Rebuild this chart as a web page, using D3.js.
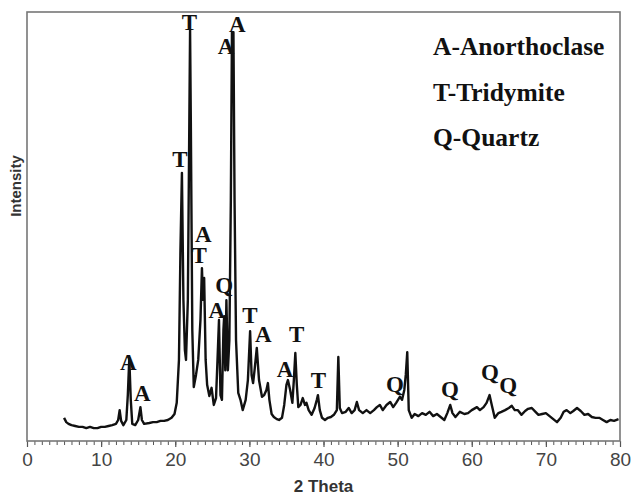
<!DOCTYPE html>
<html><head><meta charset="utf-8">
<script src="https://cdn.jsdelivr.net/npm/d3@7"></script>
<style>html,body{margin:0;padding:0;background:#fff;}svg{display:block;}</style>
</head><body>
<script>
const theta = [5.0,5.3,5.6,6.0,6.5,7.0,7.5,8.0,8.5,9.0,9.5,10.0,10.5,11.0,11.5,12.0,12.3,12.5,12.7,13.0,13.4,13.6,13.8,14.0,14.2,14.6,15.0,15.3,15.5,15.8,16.5,17.0,17.5,18.0,18.5,19.0,19.5,19.9,20.2,20.5,20.7,20.9,21.1,21.3,21.45,21.7,21.9,22.0,22.1,22.3,22.5,22.8,23.1,23.4,23.6,23.75,23.9,24.1,24.3,24.6,24.9,25.2,25.5,25.7,25.9,26.1,26.3,26.5,26.6,26.75,26.9,27.1,27.3,27.5,27.65,27.85,28.0,28.2,28.5,28.8,29.1,29.5,29.8,30.1,30.3,30.5,30.7,31.0,31.3,31.7,32.0,32.3,32.5,32.7,33.0,33.3,33.7,34.0,34.4,34.7,35.0,35.2,35.5,35.8,36.0,36.2,36.4,36.6,36.9,37.2,37.5,37.7,38.0,38.4,38.8,39.1,39.25,39.5,39.8,40.2,40.6,41.0,41.4,41.8,42.0,42.2,42.5,43.0,43.4,43.8,44.2,44.5,44.8,45.3,45.8,46.3,46.8,47.2,47.6,48.0,48.5,49.0,49.4,49.8,50.3,50.6,50.9,51.1,51.3,51.5,51.9,52.3,52.8,53.3,53.8,54.3,54.8,55.3,55.8,56.3,56.7,57.1,57.4,57.8,58.4,59.0,59.5,60.0,60.7,61.1,61.6,62.0,62.4,62.7,63.1,63.6,64.0,64.5,65.0,65.4,65.8,66.2,66.7,67.2,67.6,68.1,68.6,69.0,69.5,70.0,70.5,71.0,71.5,72.0,72.4,72.8,73.3,73.7,74.2,74.7,75.2,75.7,76.2,76.7,77.2,77.7,78.2,78.7,79.2,79.8];
const intensity = [54,44,40,37,35,33,33,30,33,30,30,33,33,35,37,40,49,72,47,37,49,107,193,96,40,37,49,79,49,40,42,44,44,47,47,49,54,63,89,189,445,625,329,212,189,329,748,958,748,259,126,154,189,282,403,329,380,189,131,105,124,84,100,189,282,107,96,259,291,165,328,165,235,562,953,953,562,235,112,96,72,96,142,256,154,135,165,217,142,103,107,119,135,96,63,56,51,49,54,84,131,142,119,89,142,205,131,79,84,100,84,89,72,61,77,96,107,72,54,49,54,56,61,72,196,77,65,68,77,65,72,91,72,65,72,65,72,79,84,72,84,91,79,89,103,96,119,154,207,72,54,63,58,65,61,68,58,63,56,49,65,84,65,56,68,63,65,72,79,72,79,89,107,84,54,65,68,72,77,82,72,72,61,70,75,77,68,61,63,65,58,51,44,54,68,72,65,70,77,70,61,63,56,54,54,49,44,49,47,51];

const peakLabel = ["A","A","T","T","A","A","A","T","Q","A","T","A","A","T","T","Q","Q","Q","Q"];
const peakTheta = [13.67,15.55,20.64,21.9,28.37,26.85,23.78,23.24,26.6,25.6,30.08,31.88,34.8,36.38,39.3,49.65,57.07,62.46,64.93];
const peakLevel = [165,93,639,958,954,902,465,414,345,287,274,231,150,231,123,114,103,142,111];

const legendText = ["A-Anorthoclase","T-Tridymite","Q-Quartz"];
const xTicks = [0,10,20,30,40,50,60,70,80];

const W = 633, H = 496;
const m = {left:27, right:13, top:12, bottom:55};
const svg = d3.select("body").append("svg").attr("width",W).attr("height",H);

const x = d3.scaleLinear().domain([0,80]).range([m.left, W-m.right]);
const y = d3.scaleLinear().domain([0,1000]).range([H-m.bottom, m.top]);

// minor ticks
svg.append("g").attr("transform",`translate(0,${H-m.bottom})`)
  .call(d3.axisBottom(x).tickValues(d3.range(0,81,1)).tickSize(4).tickFormat(""))
  .call(g=>g.select(".domain").remove())
  .call(g=>g.selectAll("line").attr("stroke","#555").attr("stroke-width",1));
// major ticks
svg.append("g").attr("transform",`translate(0,${H-m.bottom})`)
  .call(d3.axisBottom(x).tickValues(xTicks).tickSize(6).tickPadding(6).tickFormat(d3.format("d")))
  .call(g=>g.select(".domain").remove())
  .call(g=>g.selectAll("line").attr("stroke","#555").attr("stroke-width",1.2))
  .call(g=>g.selectAll("text").attr("font-family","Liberation Sans, Arial, sans-serif").attr("font-size",19).attr("fill","#444"));

// frame
svg.append("rect").attr("x",m.left).attr("y",m.top).attr("width",W-m.left-m.right).attr("height",H-m.top-m.bottom)
  .attr("fill","none").attr("stroke","#777").attr("stroke-width",1.6);

const pts = theta.map((t,i)=>[t,intensity[i]]);
svg.append("path").datum(pts)
  .attr("fill","none").attr("stroke","#111").attr("stroke-width",2.4).attr("stroke-linejoin","round")
  .attr("d", d3.line().x(d=>x(d[0])).y(d=>y(d[1])));

// peak labels
svg.append("g").selectAll("text").data(peakLabel).join("text")
  .attr("x",(d,i)=>x(peakTheta[i])).attr("y",(d,i)=>y(peakLevel[i]))
  .attr("text-anchor","middle")
  .attr("font-family","Liberation Serif, Times New Roman, serif").attr("font-weight","bold")
  .attr("font-size",23).attr("fill","#111").text(d=>d);

// legend
svg.append("g").selectAll("text").data(legendText).join("text")
  .attr("x",433).attr("y",(d,i)=>55+i*45.5)
  .attr("font-family","Liberation Serif, Times New Roman, serif").attr("font-weight","bold")
  .attr("font-size",25.5).attr("fill","#111").text(d=>d);

// axis titles
svg.append("text").attr("x",x(40)).attr("y",492).attr("text-anchor","middle")
  .attr("font-family","Liberation Sans, Arial, sans-serif").attr("font-weight","bold").attr("font-size",17)
  .attr("fill","#333").text("2 Theta");
svg.append("text").attr("transform","translate(21,186) rotate(-90)").attr("text-anchor","middle")
  .attr("font-family","Liberation Sans, Arial, sans-serif").attr("font-weight","bold").attr("font-size",15)
  .attr("fill","#333").text("Intensity");
</script>
</body></html>
